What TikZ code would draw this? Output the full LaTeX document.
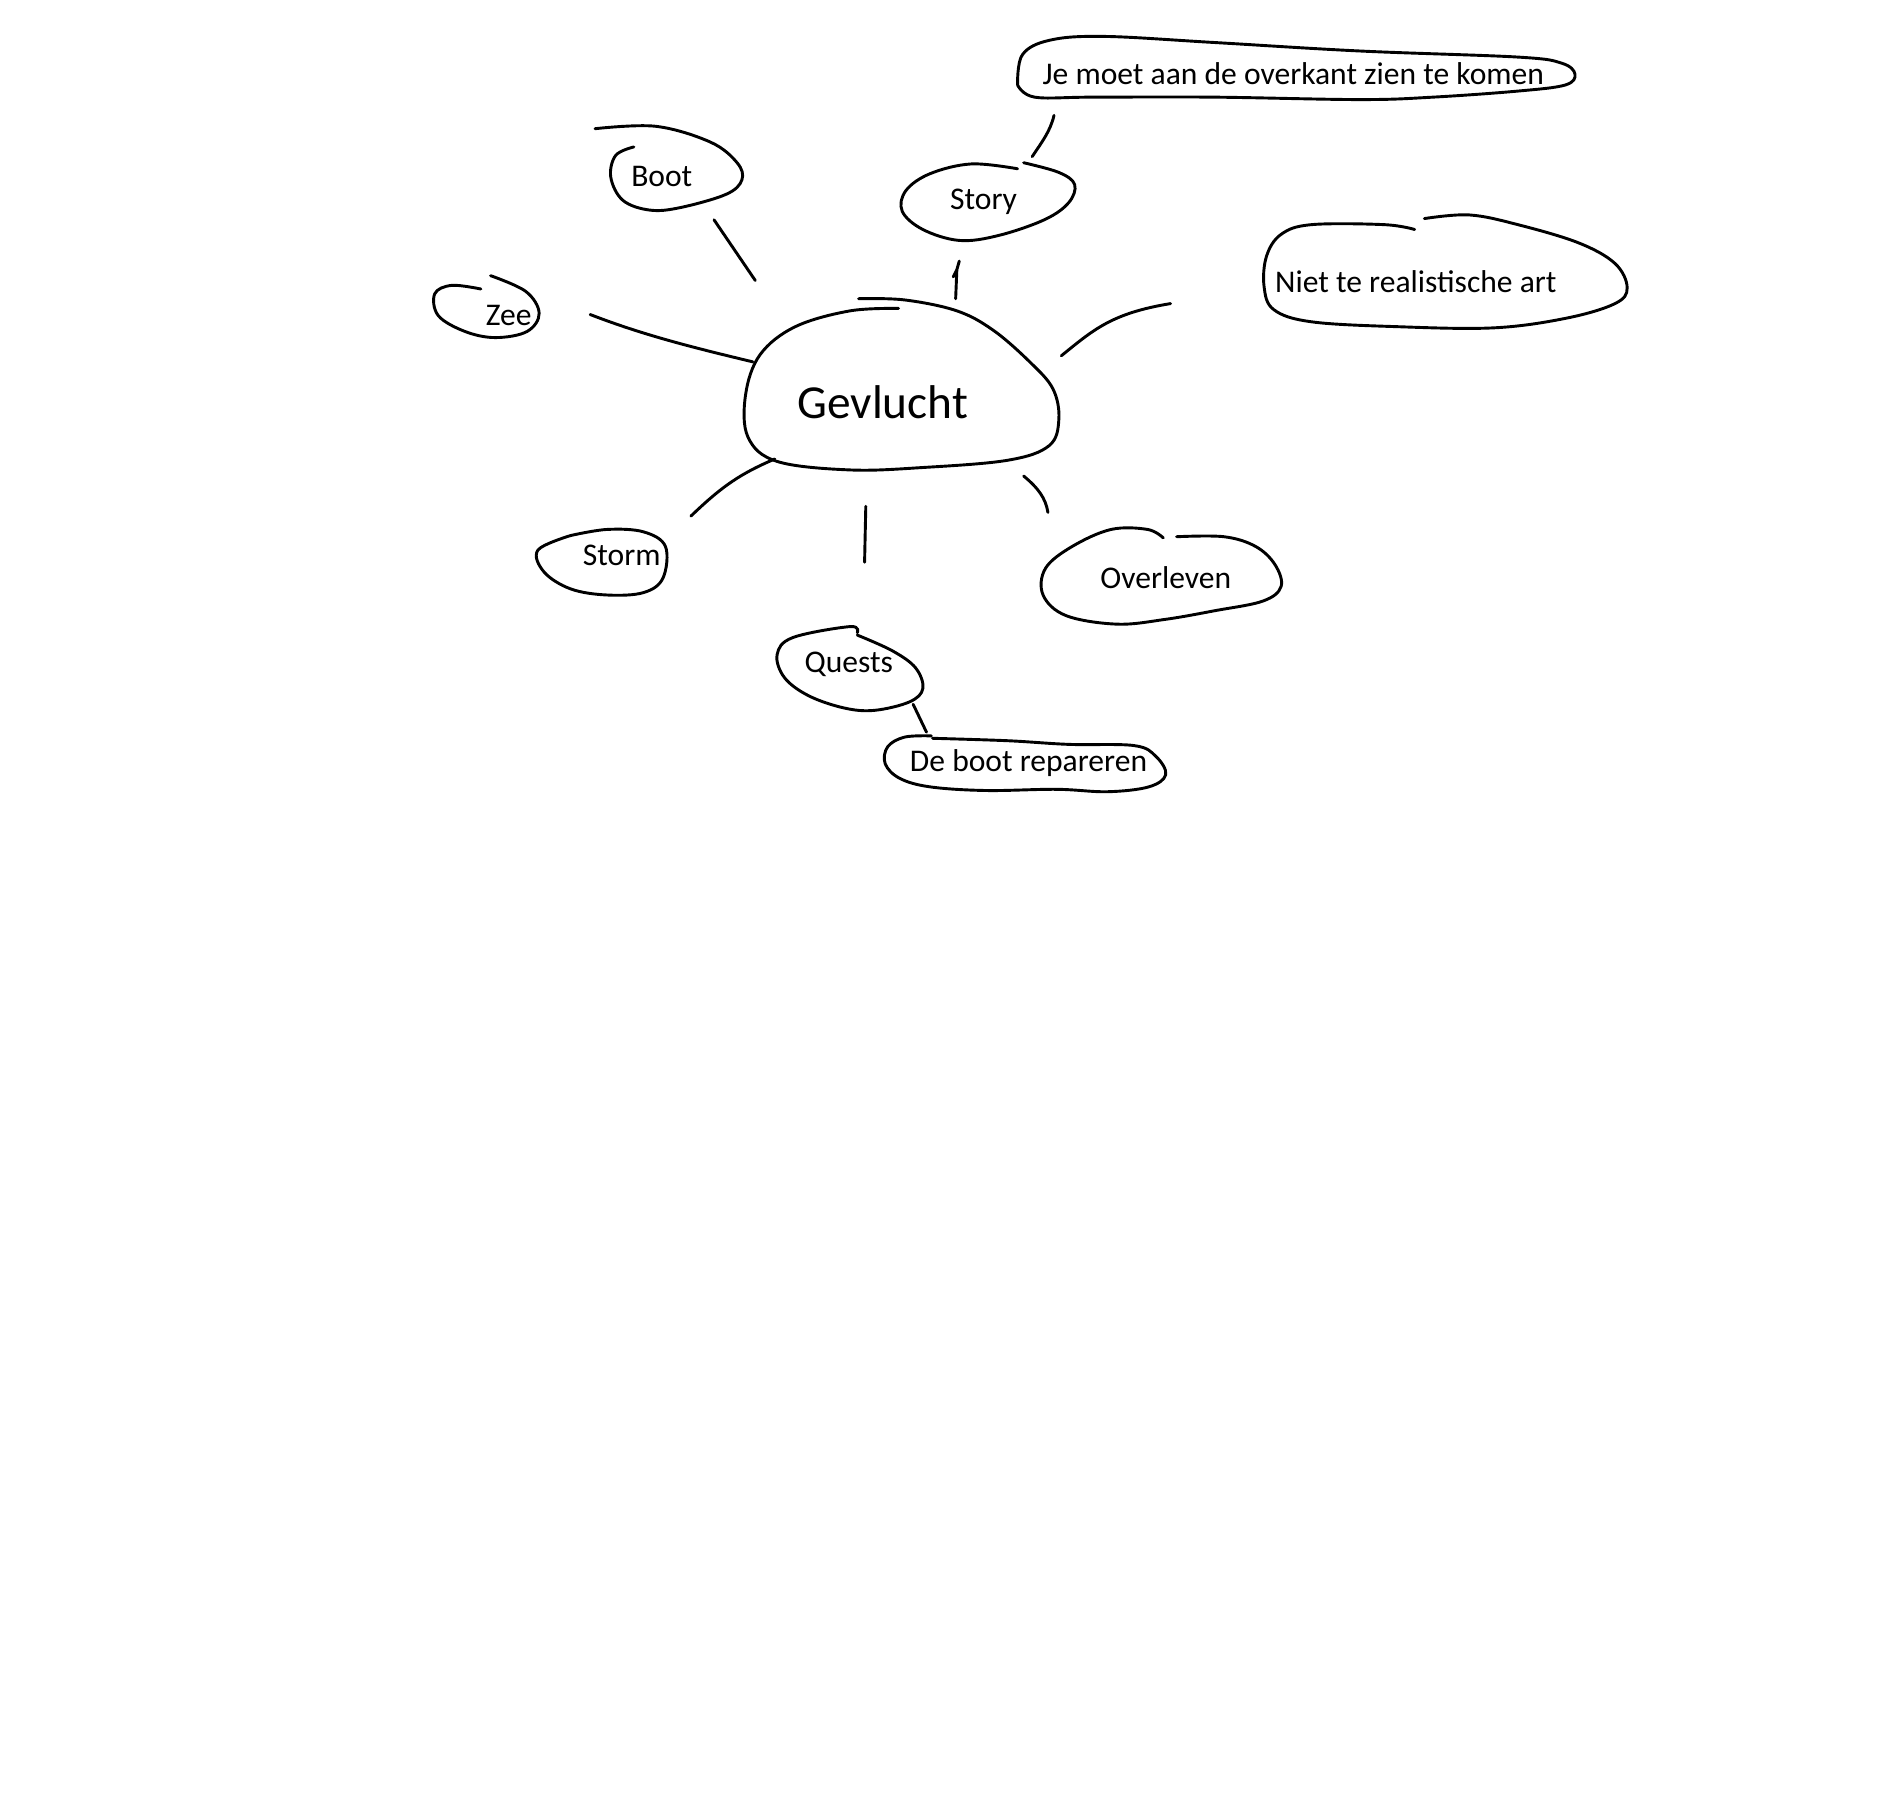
\documentclass[tikz,border=0pt]{standalone}
\usepackage{fontspec}
\setmainfont{Carlito}
\begin{document}
\begin{tikzpicture}[x=1pt,y=-1pt,
  ink/.style={line width=2.4pt,line cap=round,line join=round,black},
  lbl/.style={font=\fontsize{26}{30}\selectfont,inner sep=0pt,anchor=center},
  biglbl/.style={font=\fontsize{39}{44}\selectfont,inner sep=0pt,anchor=center}]
\useasboundingbox[fill=white] (0,0) rectangle (1568,1492);

% labels
\node[biglbl] (gev) at (727,331) {Gevlucht};
\node[lbl] (boot) at (545,145) {Boot};
\node[lbl] (story) at (810,166) {Story};
\node[lbl] (zee) at (419,260) {Zee};
\node[lbl] (storm) at (512,457) {Storm};
\node[lbl] (overl) at (960,476) {Overleven};
\node[lbl] (quests) at (699,547) {Quests};
\node[lbl] (deboot) at (847,628) {De boot repareren};
\node[lbl] (jemoet) at (1065,61) {Je moet aan de overkant zien te komen};
\node[lbl] (niet) at (1166,232) {Niet te realistische art};

% bubbles
\draw[ink] plot[smooth,tension=0.6] coordinates {(740,254) (700,256) (655,269) (626,292) (614,325) (616,360) (640,380) (700,387) (760,385) (830,379) (864,367) (872,345) (867,320) (848,298) (818,272) (788,256) (745,247) (707,246)};
\draw[ink] plot[smooth,tension=0.6] coordinates {(490,106) (540,104) (585,117) (607,134) (611,148) (598,160) (560,171) (535,173) (513,165) (503,146) (507,128) (522,121)};
\draw[ink] plot[smooth,tension=0.6] coordinates {(838,139) (800,135) (766,143) (746,157) (743,174) (760,189) (790,198) (822,194) (860,181) (880,167) (885,152) (872,142) (843,134)};
\draw[ink] plot[smooth,tension=0.6] coordinates {(396,238) (372,235) (358,242) (361,260) (383,273) (408,278) (434,273) (444,258) (433,240) (404,227)};
\draw[ink] plot[smooth,tension=0.6] coordinates {(470,441) (500,436) (530,438) (548,450) (546,476) (530,488) (500,490) (470,485) (448,471) (443,453) (470,441)};
\draw[ink] plot[smooth,tension=0.6] coordinates {(958,443) (945,436) (915,436) (883,450) (861,468) (859,490) (878,507) (920,514) (960,510) (1000,503) (1040,495) (1055,483) (1050,465) (1034,450) (1008,442) (969,442)};
\draw[ink] plot[smooth,tension=0.6] coordinates {(706,523) (735,536) (754,550) (760,567) (749,578) (720,585) (695,583) (666,573) (646,558) (640,539) (653,525) (700,516) (706,521)};
\draw[ink] plot[smooth,tension=0.6] coordinates {(767,606) (745,607) (731,615) (729,629) (741,641) (766,648) (812,651) (870,650) (912,652) (946,648) (960,638) (952,623) (934,614) (880,613) (830,610) (768,608)};
\draw[ink] plot[smooth,tension=0.6] coordinates {(838,70) (842,45) (865,33) (910,30) (1000,35) (1120,42) (1250,47) (1286,52) (1297,61) (1289,70) (1250,75) (1180,80) (1120,82) (1000,80) (900,80) (852,80) (838,70)};
\draw[ink] plot[smooth,tension=0.6] coordinates {(1165,189) (1140,185) (1080,185) (1055,193) (1043,211) (1041,236) (1049,255) (1080,265) (1150,269) (1230,270) (1290,262) (1330,250) (1340,237) (1330,217) (1300,200) (1250,185) (1210,177) (1173,180)};

% connector end points
\coordinate (c1a) at (588,181); \coordinate (c1b) at (622,231);
\coordinate (c2a) at (486,259); \coordinate (c2b) at (620,298);
\coordinate (c3a) at (790,215); \coordinate (c3b) at (787,246);
\coordinate (c4a) at (874,293); \coordinate (c4b) at (964,250);
\coordinate (c5a) at (569,425); \coordinate (c5b) at (638,378);
\coordinate (c6a) at (713,417); \coordinate (c6b) at (712,463);
\coordinate (c7a) at (843,392); \coordinate (c7b) at (863,422);
\coordinate (c8a) at (850,129); \coordinate (c8b) at (868,95);
\coordinate (c9a) at (752,580); \coordinate (c9b) at (763,603);

% connectors
\draw[ink] (c1a) -- (c1b);
\draw[ink] (c2a) .. controls (530,276) and (570,286) .. (c2b);
\draw[ink] (c3b) -- (788,222) -- (c3a) (788,222) -- (785,228);
\draw[ink] (c4a) .. controls (900,272) and (915,258) .. (c4b);
\draw[ink] (c5a) .. controls (595,400) and (610,390) .. (c5b);
\draw[ink] (c6a) -- (c6b);
\draw[ink] (c7a) .. controls (855,402) and (861,410) .. (c7b);
\draw[ink] (c8a) .. controls (858,117) and (865,108) .. (c8b);
\draw[ink] (c9a) -- (c9b);
\end{tikzpicture}
\end{document}
